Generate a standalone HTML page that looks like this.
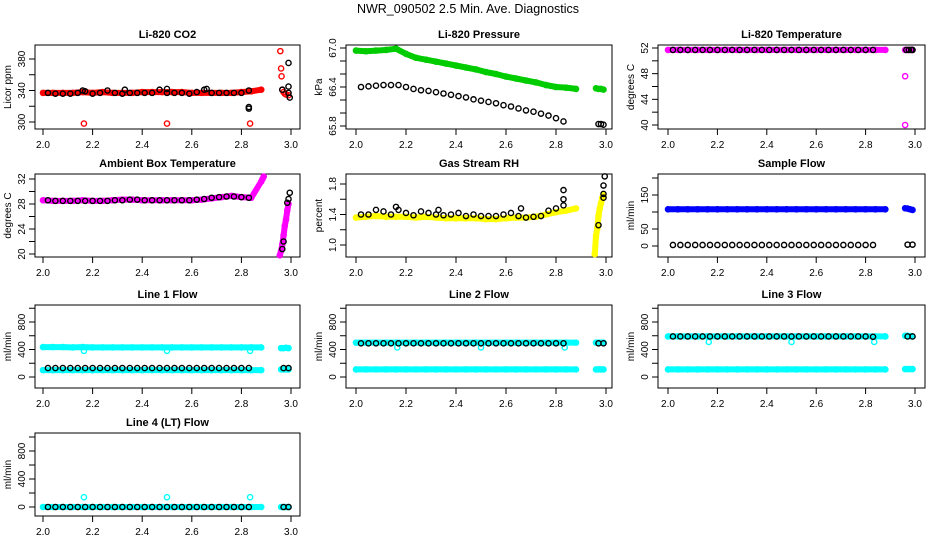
<!DOCTYPE html>
<html><head><meta charset="utf-8"><style>
body{margin:0;background:#fff}
svg{display:block;font-family:"Liberation Sans",sans-serif}
.t{font-size:11px;font-weight:bold;text-anchor:middle}
.tk{font-size:10px}
</style></head><body>
<svg id="c" width="936" height="540" viewBox="0 0 936 540">
<rect width="936" height="540" fill="#fff"/>
<text x="468" y="13" font-size="12.5" text-anchor="middle">NWR_090502  2.5 Min. Ave. Diagnostics</text>
</svg>
<script>
// x grids (time categories)
const gridC = [2.00,2.04,2.08,2.12,2.16,2.20,2.24,2.28,2.32,2.36,2.40,2.44,2.48,2.52,2.56,2.60,2.64,2.68,2.72,2.76,2.80,2.84,2.88];
const gridK = [2.02,2.05,2.08,2.11,2.14,2.17,2.20,2.23,2.26,2.29,2.32,2.35,2.38,2.41,2.44,2.47,2.50,2.53,2.56,2.59,2.62,2.65,2.68,2.71,2.74,2.77,2.80,2.83];
const xTickLabels = ["2.0","2.2","2.4","2.6","2.8","3.0"];
const outX = [2.165,2.50,2.835];
const endC4 = [2.96,2.97,2.98,2.99];
const endK2 = [2.97,2.99];

// CO2
const co2Red = [337,337,337,337,338,337,338,337,337,337,338,338,338,338,338,337,337,337,337,337,338,339,341];
const co2RedEndX = [2.957,2.96,2.962,2.965,2.97,2.975,2.98,2.99];
const co2RedEnd = [390,368,358,341,338,336,335,334];
const co2RedOut = [298,298,298];
const co2Black = [337,336,336,336,337,339,336,337,340,337,336,337,337,337,337,341,337,337,337,336,338,341,337,337,337,337,337,340];
const co2BlackExX = [2.16,2.33,2.50,2.66,2.83,2.83,2.965,2.99,2.99,2.99,2.995];
const co2BlackEx = [340,341,342,342,317,319,341,345,375,337,331];
// Pressure
const prGreen = [66.96,66.95,66.96,66.97,66.99,66.91,66.85,66.82,66.79,66.76,66.73,66.70,66.67,66.63,66.60,66.56,66.53,66.50,66.47,66.43,66.40,66.39,66.37];
const prGreenEnd = [66.38,66.37,66.37,66.36];
const prBlack = [66.40,66.41,66.42,66.43,66.43,66.43,66.40,66.37,66.35,66.34,66.32,66.30,66.28,66.26,66.24,66.21,66.19,66.17,66.15,66.12,66.10,66.07,66.04,66.02,65.99,65.96,65.92,65.87];
const prBlackEndX = [2.97,2.98,2.99];
const prBlackEnd = [65.83,65.83,65.82];
// Li-820 temperature
const ltMag = [51.7,51.7,51.7,51.7,51.7,51.7,51.7,51.7,51.7,51.7,51.7,51.7,51.7,51.7,51.7,51.7,51.7,51.7,51.7,51.7,51.7,51.7,51.7];
const ltMagEnd = [51.7,51.7,51.7,51.7];
const ltMagOutX = [2.96,2.96];
const ltMagOut = [47.6,40.0];
const ltBlack = [51.7,51.7,51.7,51.7,51.7,51.7,51.7,51.7,51.7,51.7,51.7,51.7,51.7,51.7,51.7,51.7,51.7,51.7,51.7,51.7,51.7,51.7,51.7,51.7,51.7,51.7,51.7,51.7];
const ltBlackEndX = [2.965,2.975,2.985,2.99];
const ltBlackEnd = [51.7,51.7,51.7,51.7];
// Ambient box temperature
const abMag = [28.6,28.5,28.5,28.5,28.6,28.5,28.5,28.6,28.7,28.7,28.6,28.6,28.6,28.6,28.6,28.6,28.7,28.9,29.1,29.3,29.1,29.0,31.6];
const abMagTopX = [2.885,2.89];
const abMagTop = [32.0,32.4];
const abMagEndX = [2.955,2.96,2.965,2.97,2.975,2.98,2.985,2.99];
const abMagEnd = [19.8,20.5,21.5,23,24.5,25.5,27,28];
const abBlack = [28.6,28.5,28.5,28.5,28.5,28.5,28.5,28.5,28.5,28.6,28.6,28.7,28.7,28.6,28.6,28.6,28.6,28.6,28.6,28.6,28.7,28.8,29.0,29.1,29.2,29.2,29.1,29.0];
const abBlackEndX = [2.965,2.97,2.985,2.99,2.995];
const abBlackEnd = [20.8,22,28.2,28.8,29.8];
// Gas stream RH
const rhYel = [1.36,1.37,1.38,1.37,1.37,1.37,1.36,1.37,1.36,1.35,1.35,1.35,1.35,1.34,1.34,1.35,1.36,1.36,1.37,1.40,1.43,1.45,1.48];
const rhYelEndX = [2.955,2.96,2.965,2.97,2.975,2.98,2.985,2.99];
const rhYelEnd = [0.88,1.12,1.22,1.38,1.48,1.55,1.62,1.65];
const rhBlack = [1.40,1.40,1.46,1.44,1.40,1.46,1.42,1.39,1.44,1.42,1.40,1.39,1.40,1.42,1.38,1.40,1.38,1.38,1.38,1.40,1.42,1.38,1.36,1.37,1.38,1.45,1.48,1.52];
const rhBlackExX = [2.16,2.33,2.66,2.83,2.83,2.97,2.99,2.99,2.99,2.995];
const rhBlackEx = [1.50,1.46,1.48,1.60,1.72,1.26,1.62,1.67,1.78,1.90];
// Sample flow
const sfBlue = [108,108,108,108,108,108,108,108,108,108,108,108,108,108,108,108,108,108,108,108,108,108,108];
const sfBlueEnd = [111,110,108,106];
const sfBlack = [3,3,3,3,3,3,3,3,3,3,3,3,3,3,3,3,3,3,3,3,3,3,3,3,3,3,3,3];
const sfBlackEnd = [4,4];
// Line flows
const l1Up = [435,435,435,430,435,430,430,430,430,430,430,430,430,430,430,430,430,430,430,430,430,430,430];
const l1Low = [100,100,100,100,100,100,100,100,100,100,100,100,100,100,100,100,100,100,100,100,100,100,100];
const l1Out = [380,380,380];
const l1UpEnd = [420,420,425,420];
const l1LowEnd = [110,110,110,110];
const l1Black = [130,130,130,130,130,130,130,130,130,130,130,130,130,130,130,130,130,130,130,130,130,130,130,130,130,130,130,130];
const l1BlackEnd = [130,130];
const l2Up = [500,500,500,500,500,500,500,500,500,500,500,500,500,500,500,500,500,500,500,500,500,500,500];
const l2Low = [110,110,110,110,110,110,110,110,110,110,110,110,110,110,110,110,110,110,110,110,110,110,110];
const l2Out = [430,430,430];
const l2UpEnd = [500,500,500,500];
const l2LowEnd = [110,110,110,110];
const l2Black = [490,490,490,490,490,490,490,490,490,490,490,490,490,490,490,490,490,490,490,490,490,490,490,490,490,490,490,490];
const l2BlackEnd = [490,490];
const l3Up = [590,590,590,590,590,590,590,590,590,590,590,590,590,590,590,590,590,590,590,590,590,590,590];
const l3Low = [110,110,110,110,110,110,110,110,110,110,110,110,110,110,110,110,110,110,110,110,110,110,110];
const l3Out = [510,510,510];
const l3UpEnd = [600,600,595,590];
const l3LowEnd = [115,115,115,115];
const l3Black = [590,590,590,590,590,590,590,590,590,590,590,590,590,590,590,590,590,590,590,590,590,590,590,590,590,590,590,585];
const l3BlackEnd = [590,590];
const l4Cy = [0,0,0,0,0,0,0,0,0,0,0,0,0,0,0,0,0,0,0,0,0,0,0];
const l4Out = [140,140,140];
const l4CyEnd = [0,0,0,0];
const l4Black = [0,0,0,0,0,0,0,0,0,0,0,0,0,0,0,0,0,0,0,0,0,0,0,0,0,0,0,0];
const l4BlackEnd = [0,0];

const NS = "http://www.w3.org/2000/svg";
const svg = document.getElementById('c');
const cols = [{l:35,r:300,x0:43,x1:291},{l:346,r:612,x0:356,x1:606},{l:658,r:925,x0:668,x1:915}];
const rows = [{t:45,b:129},{t:174,b:257},{t:305,b:388},{t:433,b:516}];
function mk(tag, attrs, parent){const e=document.createElementNS(NS,tag);for(const k in attrs)e.setAttribute(k,attrs[k]);(parent||svg).appendChild(e);return e;}

function panel(p){
  const c=cols[p.col], r=rows[p.row];
  const g=mk('g',{});
  
  
  const xs=v=>c.x0+(v-2)*(c.x1-c.x0);
  const ys=v=>p.p0+(v-p.v0)*(p.p1-p.p0)/(p.v1-p.v0);
  const tt=mk('text',{x:(c.l+c.r)/2,y:r.t-7,class:'t'},g); tt.textContent=p.title;
  
  
  const box=mk('rect',{x:c.l,y:r.t,width:c.r-c.l,height:r.b-r.t,fill:'none',stroke:'#000','stroke-width':1},g);
  
  
  const xa=mk('g',{},g);
  
  
  xTickLabels.forEach(l=>{const x=xs(parseFloat(l));
    mk('line',{x1:x,x2:x,y1:r.b,y2:r.b+6,stroke:'#000'},xa);
    const t=mk('text',{x:x,y:r.b+19,class:'tk','text-anchor':'middle'},xa);t.textContent=l;
  });
  mk('line',{x1:xs(2),x2:xs(3),y1:r.b,y2:r.b,stroke:'#000'},xa);
  const ya=mk('g',{},g);
  
  
  p.yticks.forEach(v=>{const y=ys(v);mk('line',{x1:c.l-6,x2:c.l,y1:y,y2:y,stroke:'#000'},ya);});
  mk('line',{x1:c.l,x2:c.l,y1:ys(p.yticks[0]),y2:ys(p.yticks[p.yticks.length-1]),stroke:'#000'},ya);
  p.ylabels.forEach(l=>{const y=ys(parseFloat(l));const t=mk('text',{x:c.l-10,y:y,class:'tk','text-anchor':'middle',transform:`rotate(-90 ${c.l-10} ${y})`},ya);t.textContent=l;});
  const ym=(r.t+r.b)/2;
  const yl=mk('text',{x:c.l-24,y:ym,class:'tk','text-anchor':'middle',transform:`rotate(-90 ${c.l-24} ${ym})`},ya);yl.textContent=p.ylab;
  
  
  p.series.forEach((s,si)=>{
    const sg=mk('g',{},g);
    
    
    if(s.band){
      const pts=s.x.map((xv,i)=>xs(xv).toFixed(1)+','+ys(s.y[i]).toFixed(1)).join(' ');
      mk('polyline',{points:pts,fill:'none',stroke:s.color,'stroke-width':6,'stroke-linecap':'round','stroke-linejoin':'round'},sg);
    }
    s.x.forEach((xv,i)=>{
      const cc=mk('circle',{cx:xs(xv),cy:ys(s.y[i]),r:2.6,fill:'none',stroke:s.color,'stroke-width':1.4},sg);
      
      
    });
  });
}
const K='#000';
panel({name:'co2',title:'Li-820 CO2',col:0,row:0,v0:300,p0:122,v1:380,p1:59,yticks:[300,320,340,360,380],ylabels:['300','340','380'],ylab:'Licor ppm',
 series:[{x:gridC,y:co2Red,color:'#f00',band:true},{x:co2RedEndX,y:co2RedEnd,color:'#f00'},{x:outX,y:co2RedOut,color:'#f00'},
 {x:gridK,y:co2Black,color:K},{x:co2BlackExX,y:co2BlackEx,color:K}]});
panel({name:'pressure',title:'Li-820 Pressure',col:1,row:0,v0:65.8,p0:126,v1:67.0,p1:48,yticks:[65.8,66.0,66.2,66.4,66.6,66.8,67.0],ylabels:['65.8','66.4','67.0'],ylab:'kPa',
 series:[{x:gridC,y:prGreen,color:'#0c0',band:true},{x:endC4,y:prGreenEnd,color:'#0c0',band:true},{x:gridK,y:prBlack,color:K},{x:prBlackEndX,y:prBlackEnd,color:K}]});
panel({name:'li820-temperature',title:'Li-820 Temperature',col:2,row:0,v0:40,p0:125,v1:52,p1:48,yticks:[40,42,44,46,48,50,52],ylabels:['40','44','48','52'],ylab:'degrees C',
 series:[{x:gridC,y:ltMag,color:'#f0f',band:true},{x:endC4,y:ltMagEnd,color:'#f0f',band:true},{x:ltMagOutX,y:ltMagOut,color:'#f0f'},{x:gridK,y:ltBlack,color:K},{x:ltBlackEndX,y:ltBlackEnd,color:K}]});
panel({name:'ambient-box-temperature',title:'Ambient Box Temperature',col:0,row:1,v0:20,p0:254,v1:32,p1:179,yticks:[20,22,24,26,28,30,32],ylabels:['20','24','28','32'],ylab:'degrees C',
 series:[{x:gridC,y:abMag,color:'#f0f',band:true},{x:abMagTopX,y:abMagTop,color:'#f0f',band:true},{x:abMagEndX,y:abMagEnd,color:'#f0f',band:true},{x:gridK,y:abBlack,color:K},{x:abBlackEndX,y:abBlackEnd,color:K}]});
panel({name:'gas-stream-rh',title:'Gas Stream RH',col:1,row:1,v0:1.0,p0:245,v1:1.8,p1:184,yticks:[1.0,1.2,1.4,1.6,1.8],ylabels:['1.0','1.4','1.8'],ylab:'percent',
 series:[{x:gridC,y:rhYel,color:'#ff0',band:true},{x:rhYelEndX,y:rhYelEnd,color:'#ff0',band:true},{x:gridK,y:rhBlack,color:K},{x:rhBlackExX,y:rhBlackEx,color:K}]});
panel({name:'sample-flow',title:'Sample Flow',col:2,row:1,v0:0,p0:246,v1:150,p1:195,yticks:[0,50,100,150,200],ylabels:['0','50','150'],ylab:'ml/min',
 series:[{x:gridC,y:sfBlue,color:'#00f',band:true},{x:endC4,y:sfBlueEnd,color:'#00f',band:true},{x:gridK,y:sfBlack,color:K},{x:endK2,y:sfBlackEnd,color:K}]});
const flowTicks=[0,200,400,600,800,1000], flowLabels=['0','400','800'];
function flowPanel(name,title,col,row,p0,p1,up,low,out,upE,lowE,blk,blkE){
  const s=[];
  if(up){s.push({x:gridC,y:up,color:'#0ff',band:true});s.push({x:endC4,y:upE,color:'#0ff',band:true});}
  s.push({x:gridC,y:low,color:'#0ff',band:true});s.push({x:endC4,y:lowE,color:'#0ff',band:true});
  s.push({x:outX,y:out,color:'#0ff'});
  s.push({x:gridK,y:blk,color:K});s.push({x:endK2,y:blkE,color:K});
  panel({name:name,title:title,col:col,row:row,v0:0,p0:p0,v1:800,p1:p1,yticks:flowTicks,ylabels:flowLabels,ylab:'ml/min',series:s});
}
flowPanel('line-1-flow','Line 1 Flow',0,2,377,322,l1Up,l1Low,l1Out,l1UpEnd,l1LowEnd,l1Black,l1BlackEnd);
flowPanel('line-2-flow','Line 2 Flow',1,2,377,322,l2Up,l2Low,l2Out,l2UpEnd,l2LowEnd,l2Black,l2BlackEnd);
flowPanel('line-3-flow','Line 3 Flow',2,2,377,322,l3Up,l3Low,l3Out,l3UpEnd,l3LowEnd,l3Black,l3BlackEnd);
flowPanel('line-4-flow','Line 4 (LT) Flow',0,3,507,451,null,l4Cy,l4Out,null,l4CyEnd,l4Black,l4BlackEnd);
</script>
</body></html>
